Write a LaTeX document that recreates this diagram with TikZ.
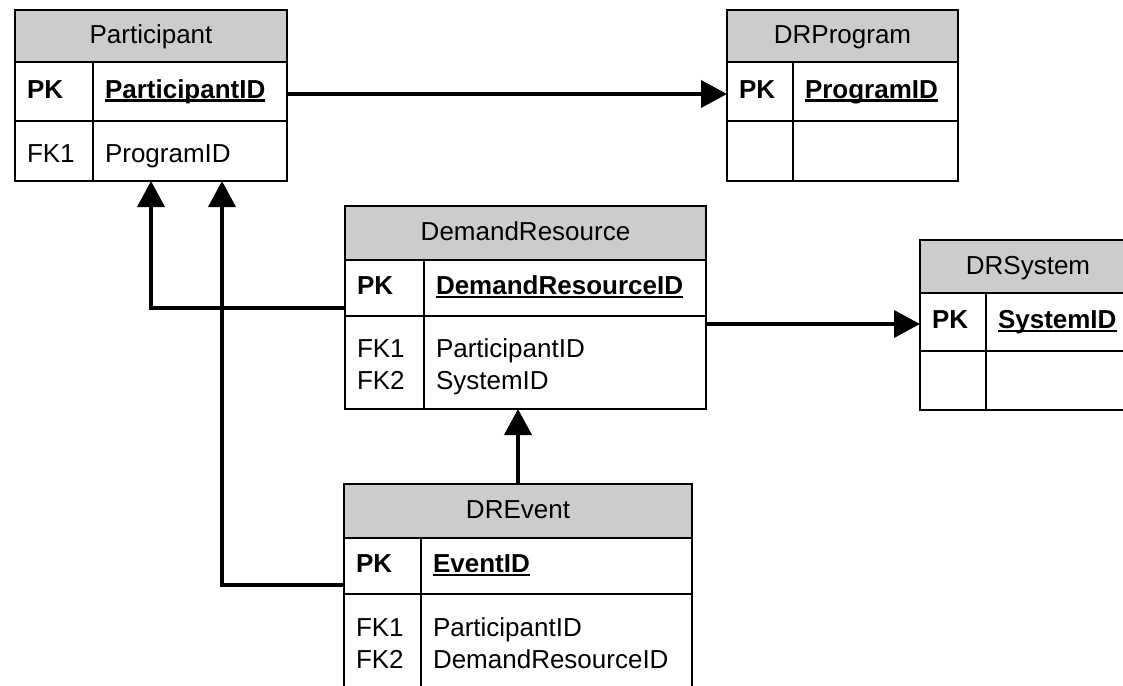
\documentclass[tikz,border=0pt]{standalone}
\usepackage{fontspec}
\setmainfont{Liberation Sans}
\usepackage{tikz}
\usetikzlibrary{
  arrows.meta,
  positioning
}
\definecolor{headgray}{HTML}{CCCCCC}
% bold and underlined primary key
\newcommand\keyname[1]{\setbox0=\hbox{\bfseries #1}\rlap{\rule[-0.15em]{\wd0}{0.1em}}\box0}

\begin{document}
\begin{tikzpicture}[x=0.5pt,y=-0.5pt,
      tbl/.style={
         rectangle,
         draw=black,
         line width=0.8pt,
         outer sep=0pt,
         inner xsep=6pt,
         inner ysep=0pt,
         anchor=north west,
         font=\fontsize{13}{16}\selectfont
      },
      head/.style={
         tbl,
         fill=headgray,
         align=center,
         text height=10.4pt,
         text depth=2.6pt
      },
      pkrow/.style={
         tbl,
         align=left,
         text height=9.1pt,
         text depth=2.6pt
      },
      fkrow/.style={
         tbl,
         align=left,
         text height=13.65pt,
         text depth=2.6pt
      },
      two lines/.style={text depth=18.6pt},
      link/.style={line width=1.9pt,-{Triangle[length=13pt,width=13.5pt]}}
    ]
    \path[use as bounding box, clip] (0,0) rectangle (1123,685);

    % Participant
    \node (part-head) [head, text width=124pt, minimum height=26pt] at (15,10) {Participant};
    \node (part-pk) [pkrow, text width=27pt, minimum height=29.5pt, below right=0pt of part-head.south west] {\textbf{PK}};
    \node (part-pkid) [pkrow, text width=85pt, minimum height=29.5pt, right=0pt of part-pk] {\keyname{ParticipantID}};
    \node (part-fk) [fkrow, text width=27pt, minimum height=30pt, below=0pt of part-pk] {FK1};
    \node (part-fkid) [fkrow, text width=85pt, minimum height=30pt, right=0pt of part-fk] {ProgramID};

    % DRProgram
    \node (prog-head) [head, text width=103.5pt, minimum height=26pt] at (727,10) {DRProgram};
    \node (prog-pk) [pkrow, text width=21pt, minimum height=29.5pt, below right=0pt of prog-head.south west] {\textbf{PK}};
    \node (prog-pkid) [pkrow, text width=70.5pt, minimum height=29.5pt, right=0pt of prog-pk] {\keyname{ProgramID}};
    \node (prog-fk) [fkrow, text width=21pt, minimum height=30pt, below=0pt of prog-pk] {};
    \node (prog-fkid) [fkrow, text width=70.5pt, minimum height=30pt, right=0pt of prog-fk] {};

    % DemandResource
    \node (dr-head) [head, text width=168.5pt, minimum height=27pt] at (345,206) {DemandResource};
    \node (dr-pk) [pkrow, text width=27.5pt, minimum height=28pt, below right=0pt of dr-head.south west] {\textbf{PK}};
    \node (dr-pkid) [pkrow, text width=129pt, minimum height=28pt, right=0pt of dr-pk] {\keyname{DemandResourceID}};
    \node (dr-fk) [fkrow, two lines, text width=27.5pt, minimum height=46.5pt, below=0pt of dr-pk] {FK1\\FK2};
    \node (dr-fkid) [fkrow, two lines, text width=129pt, minimum height=46.5pt, right=0pt of dr-fk] {ParticipantID\\SystemID};

    % DRSystem
    \node (sys-head) [head, text width=96pt, minimum height=26.5pt] at (920,240) {DRSystem};
    \node (sys-pk) [pkrow, text width=21pt, minimum height=29pt, below right=0pt of sys-head.south west] {\textbf{PK}};
    \node (sys-pkid) [pkrow, text width=63pt, minimum height=29pt, right=0pt of sys-pk] {\keyname{SystemID}};
    \node (sys-fk) [fkrow, text width=21pt, minimum height=29.5pt, below=0pt of sys-pk] {};
    \node (sys-fkid) [fkrow, text width=63pt, minimum height=29.5pt, right=0pt of sys-fk] {};

    % DREvent
    \node (ev-head) [head, text width=162pt, minimum height=27pt] at (344,484) {DREvent};
    \node (ev-pk) [pkrow, text width=26.5pt, minimum height=28pt, below right=0pt of ev-head.south west] {\textbf{PK}};
    \node (ev-pkid) [pkrow, text width=123.5pt, minimum height=28pt, right=0pt of ev-pk] {\keyname{EventID}};
    \node (ev-fk) [fkrow, two lines, text width=26.5pt, minimum height=47pt, below=0pt of ev-pk] {FK1\\FK2};
    \node (ev-fkid) [fkrow, two lines, text width=123.5pt, minimum height=47pt, right=0pt of ev-fk] {ParticipantID\\DemandResourceID};

    % relations
    \path (part-head.center |- part-fk.south) ++(71,0) coordinate (part-in);
    \draw[link] ([yshift=-1.25pt]part-pkid.east) -- ([yshift=-1.25pt]prog-pk.west);
    \draw[link] ([yshift=4pt]dr-pk.south west) -| (part-head.center |- part-fk.south);
    \draw[link] ([yshift=4.5pt]ev-pk.south west) -| (part-in);
    \draw[link] (ev-head.north) -- (ev-head.north |- dr-fkid.south);
    \draw[link] ([yshift=-1pt]dr-fkid.east |- sys-pk.west) -- ([yshift=-1pt]sys-pk.west);
\end{tikzpicture}
\end{document}
